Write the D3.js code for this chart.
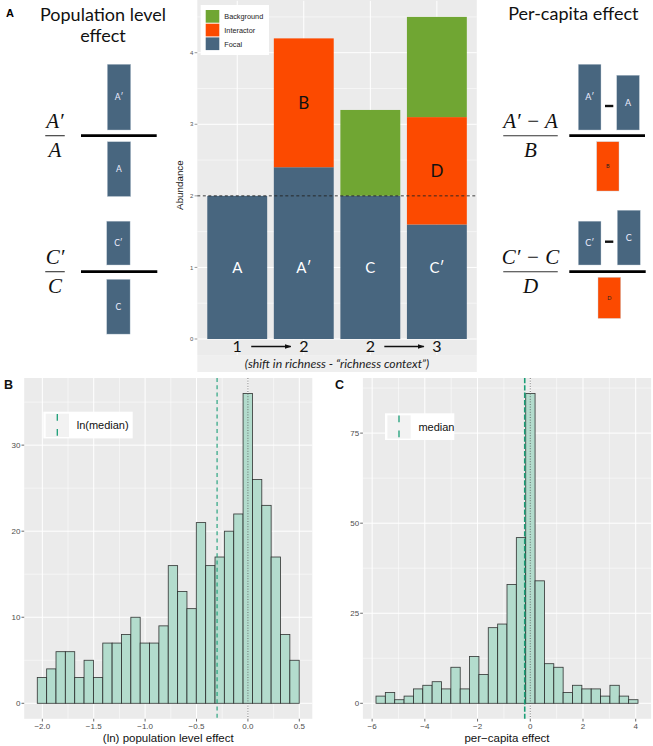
<!DOCTYPE html>
<html><head><meta charset="utf-8">
<script src="https://cdn.jsdelivr.net/npm/d3@7"></script>
<style>body{margin:0;background:#fff}svg{display:block}</style>
</head><body>
<svg id="c" width="653" height="746"></svg>
<script>
// ---------- Panel A data ----------
const barIds = ["A", "A′", "C", "C′"];
const focal = [2, 2.4, 2, 1.6];
const interactor = [0, 1.8, 0, 1.5];
const background = [0, 0, 1.2, 1.4];
const interactorLabels = ["", "B", "", "D"];
const richness = ["1", "2", "2", "3"];
const abundanceTicks = [0, 1, 2, 3, 4];
const referenceLine = 2;
const focalLabelAt = 1;
const legendKeys = ["Background", "Interactor", "Focal"];

// ---------- Panel B data ----------
const binLoB = [-2.049,-1.958,-1.867,-1.776,-1.685,-1.594,-1.503,-1.412,-1.321,-1.230,-1.139,-1.048,-0.957,-0.866,-0.775,-0.684,-0.593,-0.502,-0.411,-0.320,-0.229,-0.138,-0.047,0.044,0.135,0.226,0.317,0.408];
const binHiB = [-1.958,-1.867,-1.776,-1.685,-1.594,-1.503,-1.412,-1.321,-1.230,-1.139,-1.048,-0.957,-0.866,-0.775,-0.684,-0.593,-0.502,-0.411,-0.320,-0.229,-0.138,-0.047,0.044,0.135,0.226,0.317,0.408,0.499];
const countsB = [3,4,6,6,3,5,3,7,7,8,10,7,7,9,16,13,11,21,16,17,20,22,36,26,23,17,8,5];
const medianB = -0.30;
const xTicksB = [-2.0, -1.5, -1.0, -0.5, 0.0, 0.5];
const yTicksB = [0, 10, 20, 30];

// ---------- Panel C data ----------
const binLoC = [-5.853,-5.498,-5.143,-4.788,-4.433,-4.078,-3.723,-3.368,-3.013,-2.658,-2.303,-1.948,-1.593,-1.238,-0.883,-0.528,-0.173,0.182,0.537,0.892,1.247,1.602,1.957,2.312,2.667,3.022,3.377,3.732];
const binHiC = [-5.498,-5.143,-4.788,-4.433,-4.078,-3.723,-3.368,-3.013,-2.658,-2.303,-1.948,-1.593,-1.238,-0.883,-0.528,-0.173,0.182,0.537,0.892,1.247,1.602,1.957,2.312,2.667,3.022,3.377,3.732,4.087];
const countsC = [2,3,1,2,4,5,6,4,10,4,13,8,21,22,33,46,86,34,11,10,3,5,4,4,2,5,2,1];
const medianC = -0.21;
const xTicksC = [-6, -4, -2, 0, 2, 4];
const yTicksC = [0, 25, 50, 75];

// ---------- styles ----------
const COL = {Focal: "#48667f", Interactor: "#fc4a00", Background: "#70a633"};
const PANEL = "#ebebeb";
const HISTFILL = "#b3dccd";
const MEDCOL = "#1b9e77";
const SANS = "'Liberation Sans', Arial, sans-serif";
const CAL = "Lato, 'Open Sans', sans-serif";
const SERIF = "'Liberation Serif', 'DejaVu Serif', serif";

const svg = d3.select("#c");

// =============== PANEL A (stacked bars) ===============
const A = {l: 197.3, r: 476.8, t: 0.8, b: 355.1};
const rows = barIds.map((id, i) => ({id, Focal: focal[i], Interactor: interactor[i], Background: background[i]}));
const stack = d3.stack().keys(["Focal", "Interactor", "Background"])(rows);
const xA = d3.scaleBand().domain(barIds).range([A.l, A.r]).paddingInner(0.1).paddingOuter(0.15);
const yA = d3.scaleLinear().domain([-0.225, 4.725]).range([A.b, A.t]);

const gA = svg.append("g");
gA.append("rect").attr("x", A.l).attr("y", 0).attr("width", A.r - A.l).attr("height", A.b).attr("fill", PANEL);
gA.append("rect").attr("x", A.l).attr("y", A.b).attr("width", A.r - A.l).attr("height", 372 - A.b).attr("fill", "#efefef");
// grid
d3.range(0.5, 4.8, 1).forEach(v => gA.append("line").attr("x1", A.l).attr("x2", A.r).attr("y1", yA(v)).attr("y2", yA(v)).attr("stroke", "#fff").attr("stroke-width", 0.5));
abundanceTicks.forEach(v => gA.append("line").attr("x1", A.l).attr("x2", A.r).attr("y1", yA(v)).attr("y2", yA(v)).attr("stroke", "#fff").attr("stroke-width", 1));
barIds.forEach(id => gA.append("line").attr("x1", xA(id) + xA.bandwidth() / 2).attr("x2", xA(id) + xA.bandwidth() / 2).attr("y1", A.t).attr("y2", A.b).attr("stroke", "#fff").attr("stroke-width", 1));
// bars
stack.forEach(layer => {
  gA.selectAll(null).data(layer.filter(d => d[1] > d[0])).enter().append("rect")
    .attr("x", d => xA(d.data.id)).attr("width", xA.bandwidth())
    .attr("y", d => yA(d[1])).attr("height", d => yA(d[0]) - yA(d[1]))
    .attr("fill", COL[layer.key]);
});
// reference dashed line
gA.append("line").attr("x1", A.l).attr("x2", A.r).attr("y1", yA(referenceLine)).attr("y2", yA(referenceLine))
  .attr("stroke", "#222").attr("stroke-width", 0.9).attr("stroke-dasharray", "3,2.5");
// labels
barIds.forEach((id, i) => {
  gA.append("text").attr("x", xA(id) + xA.bandwidth() / 2).attr("y", yA(focalLabelAt)).attr("dy", "0.35em")
    .attr("text-anchor", "middle").attr("font-family", CAL).attr("font-size", 15).attr("fill", "#fff").text(id);
  if (interactorLabels[i]) {
    const mid = focal[i] + interactor[i] / 2;
    gA.append("text").attr("x", xA(id) + xA.bandwidth() / 2).attr("y", yA(mid)).attr("dy", "0.35em")
      .attr("text-anchor", "middle").attr("font-family", CAL).attr("font-size", 17).attr("fill", "#111").text(interactorLabels[i]);
  }
});
// y axis
abundanceTicks.forEach(v => {
  gA.append("line").attr("x1", A.l - 2.7).attr("x2", A.l).attr("y1", yA(v)).attr("y2", yA(v)).attr("stroke", "#555").attr("stroke-width", 0.6);
  gA.append("text").attr("x", A.l - 4).attr("y", yA(v)).attr("dy", "0.35em").attr("text-anchor", "end")
    .attr("font-family", SANS).attr("font-size", 6).attr("fill", "#555").text(v);
});
gA.append("text").attr("transform", `translate(183,${yA(2.15)}) rotate(-90)`).attr("text-anchor", "middle")
  .attr("font-family", SANS).attr("font-size", 9.8).attr("fill", "#111").text("Abundance");
// legend
gA.append("rect").attr("x", 200.7).attr("y", 5).attr("width", 68.3).attr("height", 50).attr("fill", "#fff");
legendKeys.forEach((k, i) => {
  gA.append("rect").attr("x", 205.7).attr("y", 10 + i * 13.7).attr("width", 13.6).attr("height", 12.7).attr("fill", COL[k]);
  gA.append("text").attr("x", 224.3).attr("y", 16.4 + i * 13.9).attr("dy", "0.35em").attr("font-family", SANS)
    .attr("font-size", 7.3).attr("fill", "#222").text(k);
});
// richness strip
svg.append("defs").append("marker").attr("id", "arr").attr("viewBox", "0 0 10 10").attr("refX", 9).attr("refY", 5)
  .attr("markerWidth", 5).attr("markerHeight", 5).attr("orient", "auto")
  .append("path").attr("d", "M0,1.5 L10,5 L0,8.5 z").attr("fill", "#111");
barIds.forEach((id, i) => {
  gA.append("text").attr("x", xA(id) + xA.bandwidth() / 2).attr("y", 346.5).attr("dy", "0.35em")
    .attr("text-anchor", "middle").attr("font-family", CAL).attr("font-size", 16).attr("fill", "#111").text(richness[i]);
});
[[0, 1], [2, 3]].forEach(([a, b]) => {
  const x0 = xA(barIds[a]) + xA.bandwidth() / 2 + 14, x1 = xA(barIds[b]) + xA.bandwidth() / 2 - 13;
  gA.append("line").attr("x1", x0).attr("x2", x1).attr("y1", 346.5).attr("y2", 346.5).attr("stroke", "#111").attr("stroke-width", 1.3).attr("marker-end", "url(#arr)");
});
gA.append("text").attr("x", (A.l + A.r) / 2).attr("y", 363.6).attr("dy", "0.35em").attr("text-anchor", "middle")
  .attr("font-family", CAL).attr("font-style", "italic").attr("font-size", 12.2).attr("fill", "#222")
  .text("(shift in richness - “richness context”)");

// =============== PANEL A side formulas ===============
const unitPx = d3.scaleLinear().domain([0, 1]).range([0, 27.4]);
const gF = svg.append("g");
gF.append("text").attr("x", 6).attr("y", 13).attr("dy", "0.35em").attr("font-family", SANS).attr("font-weight", "bold").attr("font-size", 11).text("A");
gF.append("text").attr("x", 103).attr("y", 15).attr("dy", "0.35em").attr("text-anchor", "middle").attr("font-family", CAL).attr("font-size", 18).attr("fill", "#111").text("Population level");
gF.append("text").attr("x", 103).attr("y", 35.5).attr("dy", "0.35em").attr("text-anchor", "middle").attr("font-family", CAL).attr("font-size", 18).attr("fill", "#111").text("effect");
gF.append("text").attr("x", 573.3).attr("y", 13.5).attr("dy", "0.35em").attr("text-anchor", "middle").attr("font-family", CAL).attr("font-size", 18).attr("fill", "#111").text("Per-capita effect");

function fraction(cx, cy, w, num, den) {
  gF.append("text").attr("x", cx).attr("y", cy - 7.5).attr("text-anchor", "middle").attr("font-family", SERIF).attr("font-style", "italic").attr("font-size", 21).attr("fill", "#111").text(num);
  gF.append("line").attr("x1", cx - w / 2).attr("x2", cx + w / 2).attr("y1", cy).attr("y2", cy).attr("stroke", "#333").attr("stroke-width", 1.1);
  gF.append("text").attr("x", cx).attr("y", cy + 21.5).attr("text-anchor", "middle").attr("font-family", SERIF).attr("font-style", "italic").attr("font-size", 21).attr("fill", "#111").text(den);
}
function miniBar(x, w, yEdge, val, up, color, label, lcol, lsize) {
  const h = unitPx(val);
  const y = up ? yEdge - h : yEdge;
  gF.append("rect").attr("x", x).attr("y", y).attr("width", w).attr("height", h).attr("fill", color).attr("stroke", "#c9d3dc").attr("stroke-width", 0.4);
  gF.append("text").attr("x", x + w / 2).attr("y", y + h / 2).attr("dy", "0.35em").attr("text-anchor", "middle").attr("font-family", CAL).attr("font-size", lsize).attr("fill", lcol).text(label);
}
function thick(x1, x2, y) {
  gF.append("line").attr("x1", x1).attr("x2", x2).attr("y1", y).attr("y2", y).attr("stroke", "#000").attr("stroke-width", 2.8);
}
// left: population level
fraction(55, 135.7, 19.5, "A′", "A");
thick(81, 156.7, 135.7);
miniBar(107.3, 23.4, 130, focal[1], true, COL.Focal, barIds[1], "#eef", 8.5);
miniBar(107.3, 23.4, 141.7, focal[0], false, COL.Focal, barIds[0], "#eef", 8.5);
fraction(55, 271.7, 19.5, "C′", "C");
thick(81, 157.3, 271.7);
miniBar(106.7, 23.4, 265, focal[3], true, COL.Focal, barIds[3], "#eef", 8.5);
miniBar(106.7, 23.4, 279.3, focal[2], false, COL.Focal, barIds[2], "#eef", 8.5);
// right: per-capita
fraction(530.5, 135.7, 54.5, "A′ − A", "B");
thick(569.3, 645, 135.7);
miniBar(578.3, 22.7, 130, focal[1], true, COL.Focal, barIds[1], "#eef", 9);
miniBar(616.7, 22.7, 130, focal[0], true, COL.Focal, barIds[0], "#eef", 9);
miniBar(596.7, 22.3, 141.7, interactor[1], false, COL.Interactor, interactorLabels[1], "#222", 5.5);
gF.append("line").attr("x1", 605).attr("x2", 613.3).attr("y1", 106).attr("y2", 106).attr("stroke", "#111").attr("stroke-width", 2.4);
fraction(530.5, 271.7, 54.5, "C′ − C", "D");
thick(569.3, 645.7, 271.7);
miniBar(578.3, 22.7, 265, focal[3], true, COL.Focal, barIds[3], "#eef", 9);
miniBar(617.3, 23, 265, focal[2], true, COL.Focal, barIds[2], "#eef", 9);
miniBar(598, 22.7, 277.3, interactor[3], false, COL.Interactor, interactorLabels[3], "#222", 5.5);
gF.append("line").attr("x1", 605).attr("x2", 613.3).attr("y1", 241.7).attr("y2", 241.7).attr("stroke", "#111").attr("stroke-width", 2.4);

// =============== Histograms ===============
function histogram(o) {
  const g = svg.append("g");
  const x = d3.scaleLinear().domain(o.xDom).range([o.l, o.r]);
  const y = d3.scaleLinear().domain(o.yDom).range([o.b, o.t]);
  g.append("rect").attr("x", o.l).attr("y", o.t).attr("width", o.r - o.l).attr("height", o.b - o.t).attr("fill", PANEL);
  o.xMinor.forEach(v => g.append("line").attr("x1", x(v)).attr("x2", x(v)).attr("y1", o.t).attr("y2", o.b).attr("stroke", "#fff").attr("stroke-width", 0.5));
  o.yMinor.forEach(v => g.append("line").attr("x1", o.l).attr("x2", o.r).attr("y1", y(v)).attr("y2", y(v)).attr("stroke", "#fff").attr("stroke-width", 0.5));
  o.xTicks.forEach(v => g.append("line").attr("x1", x(v)).attr("x2", x(v)).attr("y1", o.t).attr("y2", o.b).attr("stroke", "#fff").attr("stroke-width", 1));
  o.yTicks.forEach(v => g.append("line").attr("x1", o.l).attr("x2", o.r).attr("y1", y(v)).attr("y2", y(v)).attr("stroke", "#fff").attr("stroke-width", 1));
  const bins = o.counts.map((c, i) => ({lo: o.lo[i], hi: o.hi[i], c}));
  g.selectAll(null).data(bins).enter().append("rect")
    .attr("x", d => x(d.lo)).attr("width", d => x(d.hi) - x(d.lo))
    .attr("y", d => y(d.c)).attr("height", d => y(0) - y(d.c))
    .attr("fill", HISTFILL).attr("stroke", "#1e1e1e").attr("stroke-opacity", 0.85).attr("stroke-width", 0.85);
  g.append("line").attr("x1", x(o.median)).attr("x2", x(o.median)).attr("y1", o.t).attr("y2", o.b)
    .attr("stroke", MEDCOL).attr("stroke-width", o.medW).attr("stroke-dasharray", o.medDash);
  g.append("line").attr("x1", x(0)).attr("x2", x(0)).attr("y1", o.t).attr("y2", o.b)
    .attr("stroke", "#555").attr("stroke-width", 0.8).attr("stroke-dasharray", "1,1.6");
  // axes
  o.yTicks.forEach(v => {
    g.append("line").attr("x1", o.l - 2.7).attr("x2", o.l).attr("y1", y(v)).attr("y2", y(v)).attr("stroke", "#444").attr("stroke-width", 0.8);
    g.append("text").attr("x", o.l - 3.7).attr("y", y(v)).attr("dy", "0.35em").attr("text-anchor", "end")
      .attr("font-family", SANS).attr("font-size", 8).attr("fill", "#4d4d4d").text(v);
  });
  o.xTicks.forEach(v => {
    g.append("line").attr("x1", x(v)).attr("x2", x(v)).attr("y1", o.b).attr("y2", o.b + 2.7).attr("stroke", "#444").attr("stroke-width", 0.8);
    g.append("text").attr("x", x(v)).attr("y", o.b + 10.3).attr("text-anchor", "middle")
      .attr("font-family", SANS).attr("font-size", 8).attr("fill", "#4d4d4d").text(o.fmt(v));
  });
  g.append("text").attr("x", (o.l + o.r) / 2).attr("y", 741.5).attr("text-anchor", "middle")
    .attr("font-family", SANS).attr("font-size", 11.5).attr("fill", "#111").text(o.title);
  // legend
  const L = o.legend;
  g.append("rect").attr("x", L.x).attr("y", L.y).attr("width", L.w).attr("height", 26.7).attr("fill", "#fff");
  g.append("rect").attr("x", L.x + 2.4).attr("y", L.y + 2).attr("width", 23.3).attr("height", 23.3).attr("fill", "#f2f2f2");
  g.append("line").attr("x1", L.x + 14).attr("x2", L.x + 14).attr("y1", L.y + 2.3).attr("y2", L.y + 25)
    .attr("stroke", MEDCOL).attr("stroke-width", 1.3).attr("stroke-dasharray", "6.7,8.3");
  g.append("text").attr("x", L.x + 33.4).attr("y", L.y + 13.5).attr("dy", "0.35em")
    .attr("font-family", SANS).attr("font-size", 11).attr("fill", "#111").text(L.text);
  g.append("text").attr("x", o.tagX).attr("y", 384.5).attr("dy", "0.35em").attr("font-family", SANS)
    .attr("font-weight", "bold").attr("font-size", 12.5).attr("fill", "#111").text(o.tag);
}
const minus = s => s.replace("-", "−");
histogram({
  l: 24.2, r: 312.3, t: 378, b: 718.8,
  xDom: [-2.1764, 0.6264], yDom: [-1.8, 37.8],
  lo: binLoB, hi: binHiB, counts: countsB, median: medianB,
  xTicks: xTicksB, yTicks: yTicksB, xMinor: [-1.75, -1.25, -0.75, -0.25, 0.25], yMinor: [5, 15, 25, 35],
  fmt: v => minus(d3.format(".1f")(v)), title: "(ln) population level effect",
  medW: 1.1, medDash: "4,3.3",
  legend: {x: 43.3, y: 411.7, w: 89.4, text: "ln(median)"}, tag: "B", tagX: 4
});
histogram({
  l: 362.9, r: 651.1, t: 378, b: 718.8,
  xDom: [-6.35, 4.584], yDom: [-4.3, 90.3],
  lo: binLoC, hi: binHiC, counts: countsC, median: medianC,
  xTicks: xTicksC, yTicks: yTicksC, xMinor: [-5, -3, -1, 1, 3], yMinor: [12.5, 37.5, 62.5, 87.5],
  fmt: v => minus(String(v)), title: "per−capita effect",
  medW: 1.6, medDash: "5.3,2",
  legend: {x: 385, y: 413.3, w: 69.3, text: "median"}, tag: "C", tagX: 335
});
</script>
</body></html>
